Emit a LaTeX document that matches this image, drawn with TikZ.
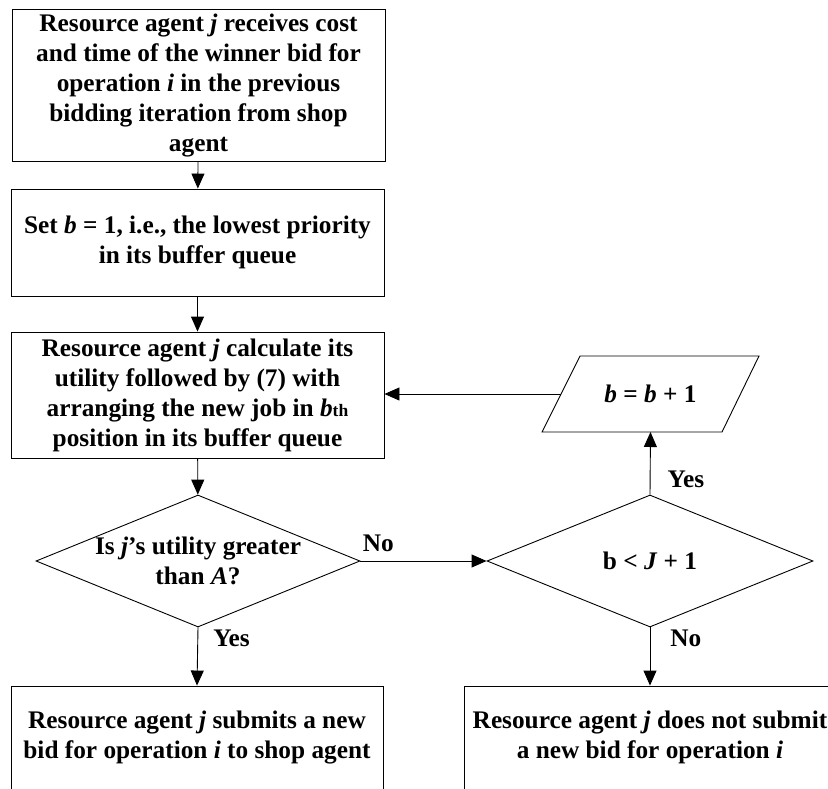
\documentclass[tikz,border=0pt]{standalone}
\usepackage{fontspec}
\setmainfont{Liberation Serif}
\usetikzlibrary{arrows.meta,shapes.geometric}
\begin{document}
\begin{tikzpicture}[x=1pt,y=-1pt,
  every node/.style={font=\fontsize{25.3}{30}\selectfont\bfseries},
  stepbox/.style={draw, line width=0.9pt, rectangle, align=center, inner sep=0pt},
  decision/.style={draw, line width=0.9pt, diamond, inner sep=0pt},
  dtext/.style={align=center},
  outline/.style={line width=0.9pt, line join=miter},
  lbl/.style={inner sep=0pt},
  arr/.style={line width=0.9pt, -{Triangle[length=15pt,width=13pt]}}]
\useasboundingbox (0,0) rectangle (828,788);
\clip (0,0) rectangle (828,788);

% process boxes down the left column
\node[stepbox, minimum width=373pt, minimum height=152pt] (recv) at (198.5,85.5)
  {Resource agent \textit{j} receives cost\\and time of the winner bid for\\operation \textit{i} in the previous\\bidding iteration from shop\\agent};
\node[stepbox, minimum width=373pt, minimum height=107pt] (setb) at (197.5,242.5)
  {Set \textit{b} = 1, i.e., the lowest priority\\in its buffer queue};
\node[stepbox, minimum width=373pt, minimum height=126pt] (calc) at (197.5,395)
  {Resource agent \textit{j} calculate its\\utility followed by (7) with\\arranging the new job in \textit{b}{\fontsize{17.5}{20}\selectfont th}\\position in its buffer queue};

% decisions
\node[decision, minimum width=324pt, minimum height=132pt,
  label={[dtext]center:{Is \textit{j}’s utility greater\\than \textit{A}?}}] (util) at (198,561) {};
\node[decision, minimum width=326pt, minimum height=132pt,
  label={[dtext]center:{b < \textit{J} + 1}}] (cnt) at (650,561) {};

% increment step: a parallelogram leaning right, drawn round its text
\node[minimum width=180pt, minimum height=76pt, inner sep=0pt] (incr) at (650.5,394)
  {\textit{b} = \textit{b} + 1};
\draw[outline] ([shift={(-70.5,-38)}]incr.center) -- ([shift={(108.5,-38)}]incr.center)
  -- ([shift={(71.5,38)}]incr.center) -- ([shift={(-108.5,38)}]incr.center) -- cycle;
\coordinate (incrleft) at ([shift={(-89.5,0)}]incr.center);

% outcome boxes at the bottom
\node[stepbox, minimum width=372pt, minimum height=103pt] (submit) at (197,737.5)
  {Resource agent \textit{j} submits a new\\bid for operation \textit{i} to shop agent};
\node[stepbox, minimum width=372pt, minimum height=103pt] (nosub) at (650,737.5)
  {Resource agent \textit{j} does not submit\\a new bid for operation \textit{i}};

% connectors
\draw[arr] (recv) -- (setb);
\draw[arr] (setb) -- (calc);
\draw[arr] (calc) -- (util);
\draw[arr] (util.south) -- node[lbl, pos=0.19, anchor=west, xshift=15pt] {Yes} (submit.north);
\draw[arr] (util.east) -- node[lbl, pos=0, anchor=base west, xshift=2pt, yshift=10pt] {No} (cnt.west);
\draw[arr] (cnt.north) -- node[lbl, pos=0.25, anchor=west, xshift=17pt] {Yes} (incr.center |- 0,432);
\draw[arr] (cnt.south) -- node[lbl, pos=0.19, anchor=west, xshift=20pt] {No} (nosub.north);
\draw[arr] (incrleft) -- (calc.east |- incrleft);
\end{tikzpicture}
\end{document}
